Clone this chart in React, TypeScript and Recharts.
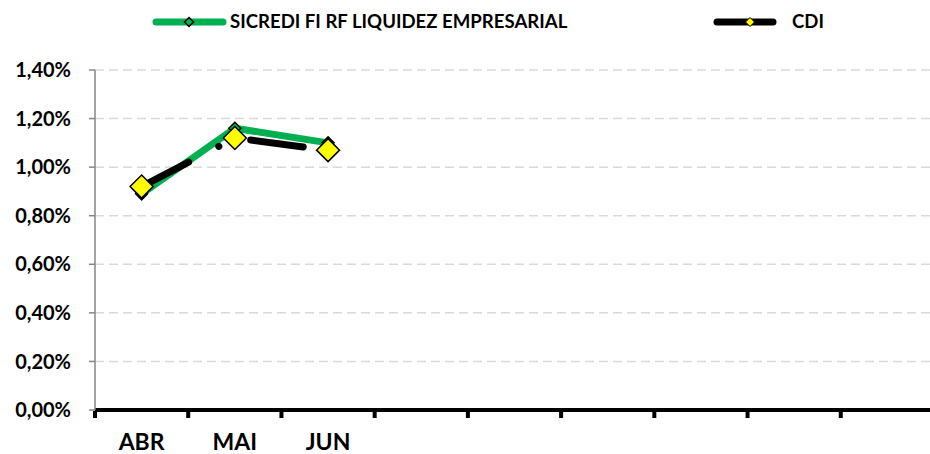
import React from 'react';
import { LineChart, Line, XAxis, YAxis, CartesianGrid } from 'recharts';

const months = ['ABR', 'MAI', 'JUN', '', '', '', '', '', ''];
const sicredi = [0.89, 1.16, 1.1];
const cdi = [0.92, 1.12, 1.07];
const yTicks = [0, 0.2, 0.4, 0.6, 0.8, 1.0, 1.2, 1.4];

const GREEN = '#00B050';
const YELLOW = '#FFFF00';
const FONT = 'Lato, "Liberation Sans", sans-serif';

// slot keeps the 9 category positions distinct even where the month label is blank
const data = months.map((m, i) => ({
  slot: `s${i}`,
  month: m,
  sicredi: sicredi[i] ?? null,
  cdi: cdi[i] ?? null,
}));

const diamond = (cx: number, cy: number, r: number) =>
  `M${cx},${cy - r} L${cx + r},${cy} L${cx},${cy + r} L${cx - r},${cy} Z`;

const GreenDot = (props: any) => {
  const { cx, cy, index } = props;
  if (cx == null || cy == null) return <g key={index} />;
  return <path key={index} d={diamond(cx, cy, 6)} fill={GREEN} stroke="#000" strokeWidth={1.5} />;
};

const YellowDot = (props: any) => {
  const { cx, cy, index } = props;
  if (cx == null || cy == null) return <g key={index} />;
  return <path key={index} d={diamond(cx, cy, 11.5)} fill={YELLOW} stroke="#000" strokeWidth={1.5} />;
};

const MonthTick = (props: any) => {
  const { x, y, payload } = props;
  const half = payload?.offset || 46.7;
  return (
    <g>
      <line x1={x - half} x2={x - half} y1={y + 1} y2={y + 8} stroke="#000" strokeWidth={4} />
      <text x={x} y={y + 40} textAnchor="middle" fontFamily={FONT} fontWeight="bold" fontSize={23} fill="#000">
        {months[payload.index]}
      </text>
    </g>
  );
};

const pct = (v: number) => v.toFixed(2).replace('.', ',') + '%';

function ChartLegend() {
  return (
    <svg width={930} height={45} style={{ position: 'absolute', left: 0, top: 0 }}>
      <line x1={156} x2={223} y1={22} y2={22} stroke={GREEN} strokeWidth={7} strokeLinecap="round" />
      <path d={diamond(189, 22, 4.5)} fill={GREEN} stroke="#000" strokeWidth={1.5} />
      <text x={230} y={28} fontFamily={FONT} fontWeight="bold" fontSize={18.6} fill="#000">
        SICREDI FI RF LIQUIDEZ EMPRESARIAL
      </text>
      <line x1={717} x2={773} y1={22} y2={22} stroke="#000" strokeWidth={7} strokeLinecap="round" />
      <path d={diamond(750, 22, 4.5)} fill={YELLOW} stroke="#000" strokeWidth={1} />
      <text x={792} y={28} fontFamily={FONT} fontWeight="bold" fontSize={18.6} fill="#000">
        CDI
      </text>
    </svg>
  );
}

export default function App() {
  return (
    <div style={{ position: 'absolute', left: 0, top: 0, width: 930, height: 454, overflow: 'hidden', background: '#fff' }}>
      <LineChart width={940} height={454} data={data} margin={{ top: 70, right: 6, bottom: 0, left: 0 }}>
        <CartesianGrid vertical={false} stroke="#D9D9D9" strokeWidth={1.5} strokeDasharray="9 5" />
        <XAxis
          dataKey="slot"
          scale="band"
          height={44}
          axisLine={{ stroke: '#000', strokeWidth: 4 }}
          tickLine={false}
          tickSize={0}
          tickMargin={0}
          interval={0}
          tick={<MonthTick />}
        />
        <YAxis
          width={95}
          domain={[0, 1.4]}
          ticks={yTicks}
          tickFormatter={pct}
          axisLine={{ stroke: '#868686', strokeWidth: 1.5 }}
          tickLine={{ stroke: '#868686', strokeWidth: 1.5 }}
          tickSize={6}
          tickMargin={18}
          tick={{ fontFamily: FONT, fontWeight: 'bold', fontSize: 20, fill: '#000' }}
        />
        <Line
          dataKey="sicredi"
          stroke={GREEN}
          strokeWidth={7}
          strokeLinecap="round"
          strokeLinejoin="round"
          dot={<GreenDot />}
          activeDot={false}
          isAnimationActive={false}
        />
        <Line
          dataKey="cdi"
          stroke="#000"
          strokeWidth={7}
          strokeLinecap="round"
          strokeLinejoin="round"
          strokeDasharray="53 34 0.1 34"
          dot={<YellowDot />}
          activeDot={false}
          isAnimationActive={false}
        />
      </LineChart>
      <ChartLegend />
    </div>
  );
}
